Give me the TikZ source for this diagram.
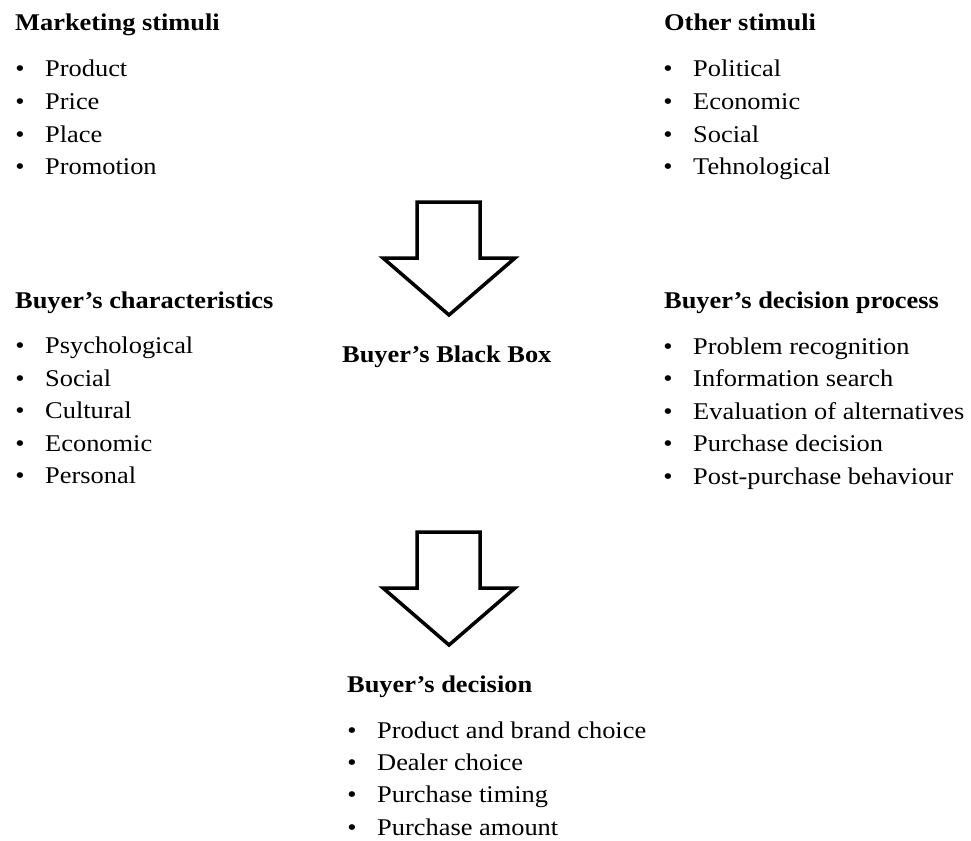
\documentclass[tikz,border=0pt]{standalone}
\usepackage{fontspec}
\setmainfont[FakeStretch=1.1]{Liberation Serif}
\begin{document}
\begin{tikzpicture}[x=1pt,y=-1pt,
  head/.style={anchor=base west,inner sep=0pt,font=\fontsize{24}{28}\selectfont\bfseries},
  item/.style={anchor=base west,inner sep=0pt,font=\fontsize{24}{28}\selectfont},
  bul/.style={anchor=base,inner sep=0pt,font=\fontsize{24}{28}\selectfont},
  bigarrow/.style={draw=black,line width=3.5pt,fill=white,line join=miter}]
\useasboundingbox (0,0) rectangle (971,840);
% Marketing stimuli
\node[head] (ms) at (15,31) {Marketing stimuli};
\foreach \t [count=\i] in {Product,Price,Place,Promotion}{
  \node[bul] (msb\i) at (20,{77+32.6*(\i-1)}) {•};
  \node[item] (msi\i) at (45,{77+32.6*(\i-1)}) {\t};
}
% Other stimuli
\node[head] (os) at (664,31) {Other stimuli};
\foreach \t [count=\i] in {Political,Economic,Social,Tehnological}{
  \node[bul] (osb\i) at (668,{77+32.6*(\i-1)}) {•};
  \node[item] (osi\i) at (693,{77+32.6*(\i-1)}) {\t};
}
% Buyer's characteristics
\node[head] (bc) at (15,308) {Buyer’s characteristics};
\foreach \t [count=\i] in {Psychological,Social,Cultural,Economic,Personal}{
  \node[bul] (bcb\i) at (20,{353.5+32.5*(\i-1)}) {•};
  \node[item] (bci\i) at (45,{353.5+32.5*(\i-1)}) {\t};
}
% Buyer's decision process
\node[head] (bdp) at (664,308) {Buyer’s decision process};
\foreach \t [count=\i] in {Problem recognition,Information search,Evaluation of alternatives,Purchase decision,Post-purchase behaviour}{
  \node[bul] (bdpb\i) at (668,{354+32.5*(\i-1)}) {•};
  \node[item] (bdpi\i) at (693,{354+32.5*(\i-1)}) {\t};
}
% Black box
\node[head] (bbb) at (342,362) {Buyer’s Black Box};
% Buyer's decision
\node[head] (bd) at (347,692) {Buyer’s decision};
\foreach \t [count=\i] in {Product and brand choice,Dealer choice,Purchase timing,Purchase amount}{
  \node[bul] (bdb\i) at (352,{738+32.4*(\i-1)}) {•};
  \node[item] (bdi\i) at (377,{738+32.4*(\i-1)}) {\t};
}
% Arrows
\draw[bigarrow] (417,202) -- (480,202) -- (480,258) -- (515,258) -- (449,315) -- (383,258) -- (417,258) -- cycle;
\draw[bigarrow] (417,532) -- (480,532) -- (480,588) -- (515,588) -- (449,645) -- (383,588) -- (417,588) -- cycle;
\end{tikzpicture}
\end{document}
